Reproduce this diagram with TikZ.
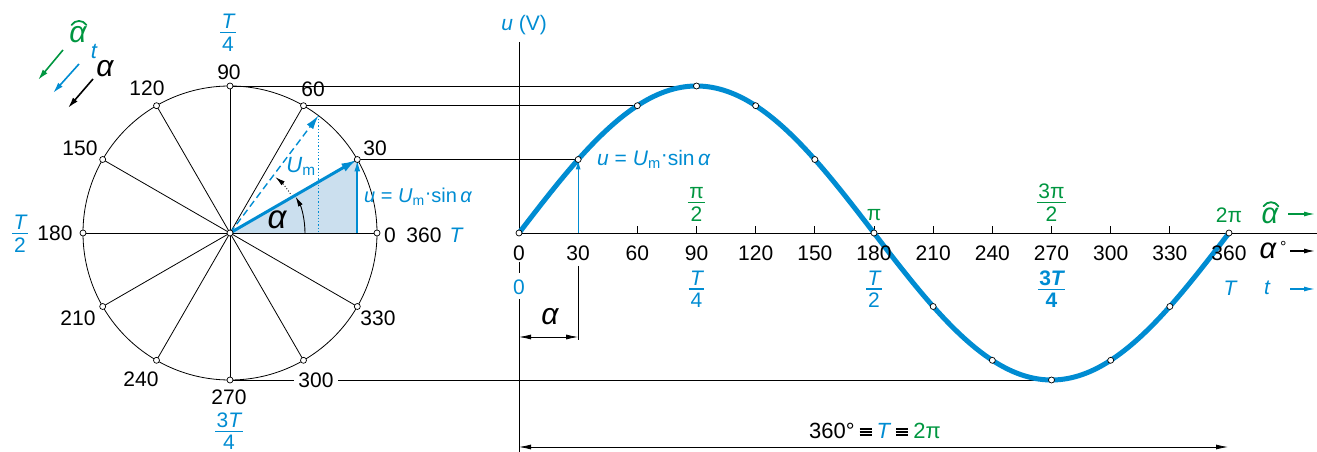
\documentclass[tikz,border=0pt]{standalone}
\usepackage{fontspec}
\usepackage{graphicx}
\setmainfont{Liberation Sans}
\usetikzlibrary{arrows.meta,calc}
\definecolor{cblue}{RGB}{0,140,210}
\definecolor{cgreen}{RGB}{0,150,64}
\definecolor{cfill}{RGB}{203,223,238}
\newcommand\fsz[1]{\fontsize{#1}{#1}\selectfont}
\newcommand\myfrac[2]{\vbox{\offinterlineskip\halign{\hfil##\hfil\cr
  \vrule height15pt depth0pt width0pt\kern1.5pt#1\kern1.5pt\cr
  \noalign{\kern3pt}
  \leaders\hrule height1.2pt\hfill\cr
  \noalign{\kern3pt}
  \vrule height15pt depth0pt width0pt#2\cr}}}
\newcommand\Um{\textit{U}\textsubscript{m}}
\newcommand\equivb{\hspace{5pt}\raisebox{2.5pt}{\vbox{\hrule width 12pt height 1.9pt\vskip1.1pt\hrule width 12pt height 1.9pt\vskip1.1pt\hrule width 12pt height 1.9pt}}\hspace{5pt}}
\begin{document}
\begin{tikzpicture}[x=1pt,y=1pt,
  thin/.style={line width=0.8pt},
  pt/.style={circle,draw,fill=white,inner sep=0pt,minimum size=6pt,line width=0.7pt},
  lab/.style={font=\fsz{21},inner sep=1pt},
  blab/.style={lab,text=cblue},
  glab/.style={lab,text=cgreen},
  frlab/.style={font=\fsz{21},inner sep=0pt},
  hat/.style={line width=1.8pt,line cap=round},
  dim/.style={{Latex[length=12pt,width=5pt]}-{Latex[length=12pt,width=5pt]},line width=0.8pt}]
\useasboundingbox (0,0) rectangle (1317,452);
% ---------- circle ----------
\coordinate (C) at (230,219);
\foreach \a in {0,30,...,330} {\coordinate (c\a) at ($(C)+(\a:147)$);}
\coordinate (c53) at ($(C)+(53:147)$);
\coordinate (b53) at (c53 |- C);
\coordinate (b30) at (c30 |- C);
\fill[cfill] (C) -- (b30) -- (c30) -- cycle;
\draw[thin] (C) circle[radius=147];
\foreach \a in {0,30,...,330} {\draw[thin] (C) -- (c\a);}
% sine points
\foreach \k in {0,...,12} {\coordinate (s\k) at ({519+\k*59.1667},{219+147*sin(30*\k)});}
% projection lines
\draw[line width=0.9pt] (c90) -- (s3);
\draw[line width=0.9pt] (c60) -- (s2);
\draw[line width=0.9pt] (c30) -- (s1);
\draw[line width=0.9pt] (c270) -- (s9);
% blue vectors in circle
\draw[cblue,dotted,line width=1.3pt] (c53) -- (b53);
\draw[cblue,dash pattern=on 7pt off 4pt,line width=1.4pt,-{Latex[length=14pt,width=8pt]}] (C) -- (c53);
\draw[cblue,line width=1.8pt,-{Latex[length=12pt,width=6pt]}] (b30) -- (c30);
\draw[cblue,line width=3pt,-{Latex[length=16pt,width=9pt]}] (C) -- (c30);
% angle arcs
\draw[line width=0.9pt,-{Latex[length=10pt,width=5pt]}] ($(C)+(75,0)$) arc[start angle=0,end angle=29,radius=75];
\draw[line width=0.9pt,dotted,-{Latex[length=10pt,width=5pt]}] ($(C)+(33:72)$) arc[start angle=33,end angle=51,radius=72];
\foreach \a in {0,30,...,330} {\node[pt] (pc\a) at (c\a) {};}
\node[pt] (pC) at (C) {};
% circle labels
\node[lab] (l90) at (229,380) {90};
\node[lab] (l60) at (313,363) {60};
\node[lab] (l30) at (375,304) {30};
\node[lab] (l0) at (390,217) {0};
\node[lab] (l360) at (424,217) {360};
\node[blab,font=\fsz{21}\itshape] (lT) at (456,217) {T};
\node[lab] (l330) at (378,134) {330};
\node[lab,fill=white,inner xsep=4pt] (l300) at (316,72) {300};
\node[lab] (l270) at (229,55) {270};
\node[lab] (l240) at (141,73) {240};
\node[lab] (l210) at (78,134) {210};
\node[lab] (l180) at (55,219) {180};
\node[lab] (l150) at (80,304) {150};
\node[lab] (l120) at (147,364) {120};
\node[frlab,text=cblue] (fT4) at (228,419.5) {\myfrac{\itshape T}{4}};
\node[frlab,text=cblue] (fT2) at (20,218.5) {\myfrac{\itshape T}{2}};
\node[frlab,text=cblue] (f3T4) at (229,21) {\myfrac{3\itshape T}{4}};
\node[font=\fsz{33}\itshape,inner sep=0pt] (alc) at (277,232) {α};
\node[font=\fsz{22},text=cblue,inner sep=0pt] (um) at (301,286) {\Um};
\node[font=\fsz{20},text=cblue,anchor=west,inner sep=0pt] (ff1) at (364,255) {\textit{u} = \Um\raisebox{0.3ex}{·}sin\,\textit{α}};
% legend top left
\coordinate (ga1) at (63,402); \coordinate (ga2) at (38,372);
\coordinate (ba1) at (79,388); \coordinate (ba2) at (53,359);
\coordinate (ka1) at (93,373); \coordinate (ka2) at (68,344);
\draw[cgreen,line width=1.6pt,-{Latex[length=11pt,width=6pt]}] (ga1) -- (ga2);
\draw[cblue,line width=1.6pt,-{Latex[length=11pt,width=6pt]}] (ba1) -- (ba2);
\draw[black,line width=1.6pt,-{Latex[length=11pt,width=6pt]}] (ka1) -- (ka2);
\node[font=\fsz{30}\itshape,text=cgreen,inner sep=0pt] (lgah) at (78,417) {α};
\draw[cgreen,hat] ($(lgah.north)+(-6.5,1.5)$) .. controls ($(lgah.north)+(-3,7)$) and ($(lgah.north)+(5,7)$) .. ($(lgah.north)+(8.5,1.5)$);
\node[font=\fsz{22}\itshape,text=cblue,inner sep=0pt] (lgt) at (94,400) {t};
\node[font=\fsz{30}\itshape,inner sep=0pt] (lga) at (105,383) {α};
% ---------- sine diagram ----------
\coordinate (O) at (519,219);
\coordinate (ytop) at (519,410);
\coordinate (xend) at (1317,219);
\coordinate (yb1) at (519,190); \coordinate (yb2) at (519,179);
\coordinate (yb3) at (519,153); \coordinate (yb4) at (519,0);
\draw[line width=0.9pt] (ytop) -- (O);
\draw[line width=0.9pt] (yb1) -- (yb2);
\draw[line width=0.9pt] (yb3) -- (yb4);
\draw[line width=0.9pt] (O) -- (xend);
\foreach \k in {1,...,11} {\draw[line width=0.9pt] ({519+\k*59.1667},219) -- ++(0,7);}
\draw[cblue,line width=1.3pt,-{Latex[length=10pt,width=5pt]}] (s1 |- O) -- (s1);
\draw[cblue,line width=5pt] plot[domain=0:360,samples=145,smooth] ({519+\x*1.97222},{219+147*sin(\x)});
\foreach \k in {0,...,12} {\node[pt] (ps\k) at (s\k) {};}
% axis labels
\foreach \k in {0,...,12} {\pgfmathtruncatemacro\d{30*\k}\node[lab] (ax\k) at ({519+\k*59.1667},199) {\d};}
\node[blab] (z0) at (519,165) {0};
\node[frlab,text=cblue] (bT4) at (696.5,163) {\myfrac{\itshape T}{4}};
\node[frlab,text=cblue] (bT2) at (874,163) {\myfrac{\itshape T}{2}};
\node[frlab,text=cblue] (b3T4) at (1051.5,163) {\myfrac{\bfseries 3\itshape T}{\bfseries 4}};
\node[frlab,text=cgreen] (gp2) at (696.5,249.5) {\myfrac{π}{2}};
\node[glab] (gp) at (874,237) {π};
\node[frlab,text=cgreen] (g3p2) at (1051.5,249.5) {\myfrac{3π}{2}};
\node[glab] (g2p) at (1229,237) {2π};
\node[font=\fsz{21},text=cblue,inner sep=0pt] (uV) at (524,427) {\textit{u} (V)};
\node[font=\fsz{21},text=cblue,anchor=west,inner sep=0pt] (ff2) at (597,293) {\textit{u} = \Um\raisebox{0.3ex}{·}sin\,\textit{α}};
% right legend
\node[font=\fsz{29}\itshape,text=cgreen,inner sep=0pt] (rah) at (1270,236) {α};
\draw[cgreen,hat] ($(rah.north)+(-6.5,1.5)$) .. controls ($(rah.north)+(-3,7)$) and ($(rah.north)+(5,7)$) .. ($(rah.north)+(8.5,1.5)$);
\coordinate (ra1) at (1288,238); \coordinate (ra2) at (1315,238);
\draw[cgreen,line width=1.2pt,-{Latex[length=11pt,width=5pt]}] (ra1) -- (ra2);
\node[font=\fsz{29}\itshape,inner sep=0pt] (rad) at (1268,201) {α};
\node[font=\fsz{16},inner sep=0pt,anchor=west] (rdeg) at (1280,205) {°};
\coordinate (rb1) at (1290,201); \coordinate (rb2) at (1315,201);
\draw[line width=1.2pt,-{Latex[length=11pt,width=5pt]}] (rb1) -- (rb2);
\node[font=\fsz{21}\itshape,text=cblue,inner sep=0pt] (rT) at (1230,164) {T};
\node[font=\fsz{21}\itshape,text=cblue,inner sep=0pt] (rt) at (1267,164) {t};
\coordinate (rc1) at (1290,163); \coordinate (rc2) at (1315,163);
\draw[cblue,line width=1.2pt,-{Latex[length=11pt,width=5pt]}] (rc1) -- (rc2);
% alpha dimension
\coordinate (d1) at (578.2,186); \coordinate (d2) at (578.2,112);
\draw[line width=0.9pt] (d1) -- (d2);
\coordinate (da) at (519,115); \coordinate (db) at (578.2,115);
\draw[dim] (da) -- (db);
\node[font=\fsz{30}\itshape,inner sep=0pt] (dal) at (550,135) {α};
% full period dimension
\coordinate (pa) at (519,5); \coordinate (pb) at (1228,5);
\draw[dim] (pa) -- (pb);
\node[font=\fsz{22},inner sep=0pt] (perl) at (875,21) {360°\equivb\textcolor{cblue}{\textit{T}}\equivb\textcolor{cgreen}{2π}};
\end{tikzpicture}
\end{document}
